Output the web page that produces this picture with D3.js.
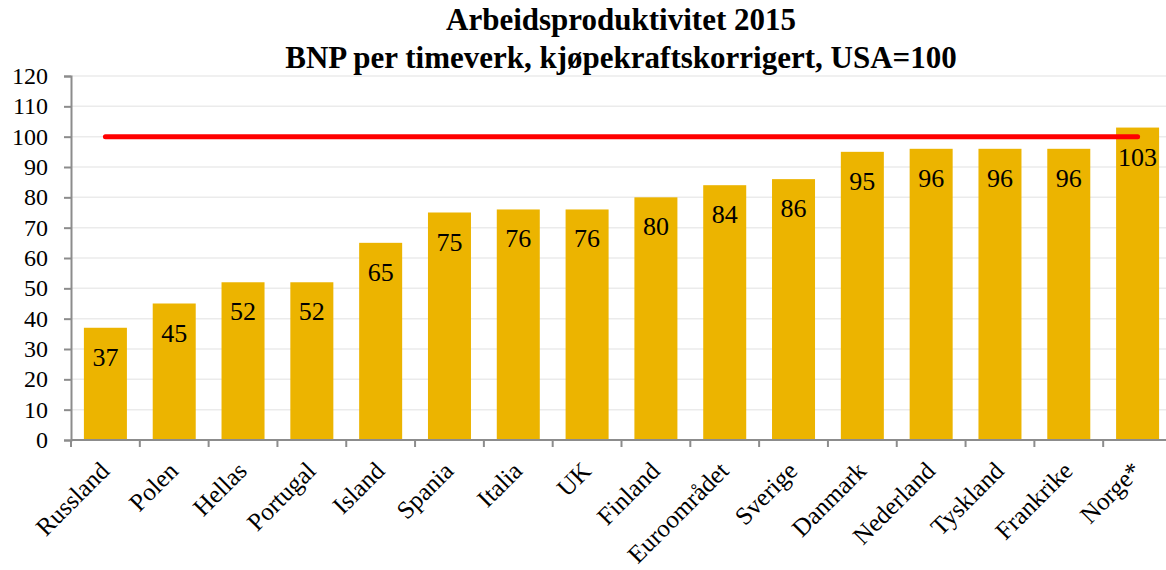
<!DOCTYPE html>
<html>
<head>
<meta charset="utf-8">
<script src="https://cdn.jsdelivr.net/npm/d3@7"></script>
<style>
  body { margin: 0; background: #fff; }
  svg { display: block; font-family: "Liberation Serif", "Times New Roman", serif; }
</style>
</head>
<body>
<div class="chart"></div>
<script>
var countries = ["Russland", "Polen", "Hellas", "Portugal", "Island", "Spania", "Italia", "UK",
                 "Finland", "Euroområdet", "Sverige", "Danmark", "Nederland", "Tyskland", "Frankrike", "Norge*"];
var productivity = [37, 45, 52, 52, 65, 75, 76, 76, 80, 84, 86, 95, 96, 96, 96, 103];
var yTicks = [0, 10, 20, 30, 40, 50, 60, 70, 80, 90, 100, 110, 120];
var usaLevel = 100;
var titleLines = ["Arbeidsproduktivitet 2015", "BNP per timeverk, kjøpekraftskorrigert, USA=100"];

var width = 1166,
    height = 570,
    plotLeft = 71,
    plotRight = 1172,
    plotTop = 76,
    plotBottom = 440;

var svg = d3.select(".chart").append("svg")
    .attr("width", width)
    .attr("height", height);

var x = d3.scaleBand()
    .domain(countries)
    .range([plotLeft, plotRight])
    .paddingInner(0.375)
    .paddingOuter(0.1875);

var y = d3.scaleLinear()
    .domain([0, 120])
    .range([plotBottom, plotTop]);

// gridlines
svg.append("g").selectAll("line")
    .data(yTicks.filter(function(d){ return d > 0; }))
    .enter().append("line")
    .attr("x1", plotLeft).attr("x2", plotRight)
    .attr("y1", function(d){ return y(d); })
    .attr("y2", function(d){ return y(d); })
    .attr("stroke", "#ebebeb")
    .attr("stroke-width", 1.5);

// bars
svg.append("g").selectAll("rect")
    .data(countries)
    .enter().append("rect")
    .attr("x", function(d){ return x(d); })
    .attr("width", x.bandwidth())
    .attr("y", function(d, i){ return y(productivity[i]); })
    .attr("height", function(d, i){ return y(0) - y(productivity[i]); })
    .attr("fill", "#ecb400");

// value labels
svg.append("g").selectAll("text")
    .data(countries)
    .enter().append("text")
    .attr("x", function(d){ return x(d) + x.bandwidth() / 2; })
    .attr("y", function(d, i){ return y(productivity[i]) + 38; })
    .attr("text-anchor", "middle")
    .style("font-size", "26px")
    .attr("fill", "#000")
    .text(function(d, i){ return productivity[i]; });

// USA = 100 line
svg.append("line")
    .attr("x1", x(countries[0]) + x.bandwidth() / 2)
    .attr("x2", x(countries[countries.length - 1]) + x.bandwidth() / 2)
    .attr("y1", y(usaLevel)).attr("y2", y(usaLevel))
    .attr("stroke", "#ff0000")
    .attr("stroke-width", 5)
    .attr("stroke-linecap", "round");

// y axis (ticks from d3, labels drawn by hand so the serif font sticks)
var yAxis = svg.append("g")
    .attr("transform", "translate(" + plotLeft + ",0)")
    .call(d3.axisLeft(y).tickValues(yTicks).tickSize(7).tickSizeOuter(7).tickFormat(""));
yAxis.selectAll("path, line").attr("stroke", "#8c8c8c").attr("stroke-width", 2);

svg.append("g").selectAll("text")
    .data(yTicks)
    .enter().append("text")
    .attr("x", 48)
    .attr("y", function(d){ return y(d); })
    .attr("dy", "0.34em")
    .attr("text-anchor", "end")
    .style("font-size", "24px")
    .attr("fill", "#000")
    .text(function(d){ return d; });

// x axis
var xAxis = svg.append("g")
    .attr("transform", "translate(0," + plotBottom + ")");
xAxis.append("line")
    .attr("x1", plotLeft).attr("x2", plotRight)
    .attr("stroke", "#8c8c8c").attr("stroke-width", 2);
xAxis.selectAll(".tick")
    .data(countries)
    .enter().append("line")
    .attr("class", "tick")
    .attr("x1", function(d){ return x(d) - x.step() * x.paddingInner() / 2; })
    .attr("x2", function(d){ return x(d) - x.step() * x.paddingInner() / 2; })
    .attr("y1", 0).attr("y2", 7)
    .attr("stroke", "#8c8c8c").attr("stroke-width", 2);

xAxis.selectAll(".cat")
    .data(countries)
    .enter().append("text")
    .attr("class", "cat")
    .attr("transform", function(d){
        return "translate(" + (x(d) + x.bandwidth() / 2 - 7) + ",20) rotate(-45)";
    })
    .attr("text-anchor", "end")
    .attr("dy", "0.7em")
    .style("font-size", "25px")
    .attr("fill", "#000")
    .text(function(d){ return d; });

// title
svg.append("g").selectAll("text")
    .data(titleLines)
    .enter().append("text")
    .attr("x", 621)
    .attr("y", function(d, i){ return 30 + i * 38; })
    .attr("text-anchor", "middle")
    .style("font-size", "31px")
    .attr("font-weight", "bold")
    .attr("fill", "#000")
    .text(function(d){ return d; });
</script>
</body>
</html>
